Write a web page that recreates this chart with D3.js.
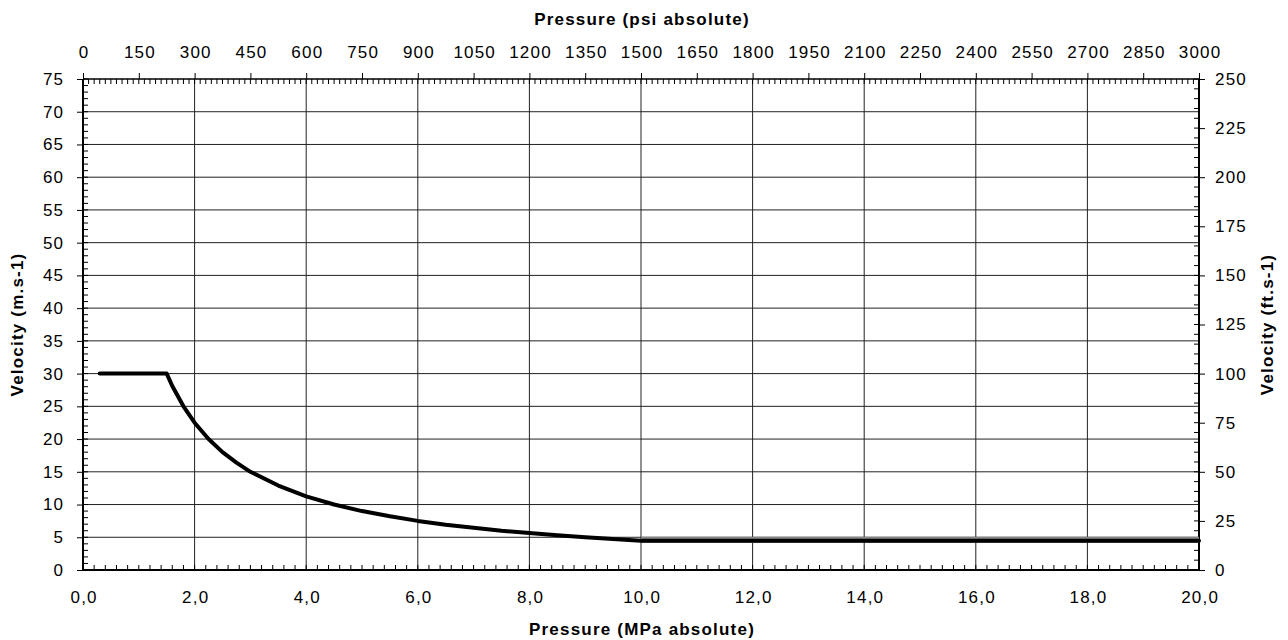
<!DOCTYPE html>
<html><head><meta charset="utf-8">
<script src="https://cdn.jsdelivr.net/npm/d3@7"></script>
<style>body{margin:0;background:#fff}svg{display:block}text{font-family:"Liberation Sans",Arial,sans-serif;fill:#000}</style>
</head><body><svg id="c" width="1288" height="640"></svg>
<script>
// Data
const pressureMPa = [0.3, 1.5, 1.6, 1.8, 2.0, 2.25, 2.5, 2.75, 3.0, 3.5, 4.0, 4.5, 5.0, 5.5, 6.0, 6.5, 7.0, 7.5, 8.0, 8.5, 9.0, 9.5, 10.0, 12.0, 14.0, 16.0, 18.0, 20.0];
const velocityMS  = [30, 30, 28.1, 25, 22.5, 20, 18, 16.4, 15, 12.9, 11.25, 10, 9, 8.2, 7.5, 6.9, 6.45, 6.0, 5.65, 5.3, 5.0, 4.75, 4.45, 4.45, 4.45, 4.45, 4.45, 4.45];
const flatP = [10.0, 20.0];
const flatV = [4.62, 4.62];
const bottomTicks = [0, 2, 4, 6, 8, 10, 12, 14, 16, 18, 20];
const topTicks = [0,150,300,450,600,750,900,1050,1200,1350,1500,1650,1800,1950,2100,2250,2400,2550,2700,2850,3000];
const leftTicks = [0,5,10,15,20,25,30,35,40,45,50,55,60,65,70,75];
const rightTicks = [0,25,50,75,100,125,150,175,200,225,250];

const svg = d3.select("#c");
const L = 83, R = 1199, T = 79, B = 570;
const x = d3.scaleLinear().domain([0,20]).range([L,R]);
const xt = d3.scaleLinear().domain([0,3000]).range([L,R]);
const y = d3.scaleLinear().domain([0,75]).range([B,T]);
const yr = d3.scaleLinear().domain([0,250]).range([B,T]);

// gridlines
const g = svg.append("g");
g.selectAll(".hg").data(leftTicks.filter(d=>d>0 && d<75)).join("line")
  .attr("x1",L).attr("x2",R).attr("y1",d=>y(d)).attr("y2",d=>y(d))
  .attr("stroke","#222").attr("stroke-width",1);
g.selectAll(".vg").data(bottomTicks.filter(d=>d>0 && d<20)).join("line")
  .attr("y1",T).attr("y2",B).attr("x1",d=>x(d)).attr("x2",d=>x(d))
  .attr("stroke","#222").attr("stroke-width",1);

// minor ticks
const minorLeft = d3.range(0,76,1);
svg.append("g").selectAll("line").data(minorLeft).join("line")
  .attr("x1",L).attr("x2",L+5).attr("y1",d=>y(d)).attr("y2",d=>y(d)).attr("stroke","#000");
const minorRight = d3.range(0,251,5);
svg.append("g").selectAll("line").data(minorRight).join("line")
  .attr("x1",R-5).attr("x2",R).attr("y1",d=>yr(d)).attr("y2",d=>yr(d)).attr("stroke","#000");
const minorBottom = d3.range(0,20.01,0.2);
svg.append("g").selectAll("line").data(minorBottom).join("line")
  .attr("x1",d=>x(d)).attr("x2",d=>x(d)).attr("y1",B).attr("y2",B-5).attr("stroke","#000");
const minorTop = d3.range(0,3001,15);
svg.append("g").selectAll("line").data(minorTop).join("line")
  .attr("x1",d=>xt(d)).attr("x2",d=>xt(d)).attr("y1",T).attr("y2",T+5).attr("stroke","#000");

// axes
const fmt = d3.format(".1f");
const ax = svg.append("g");
const bAxis = ax.append("g").attr("transform",`translate(0,${B})`)
  .call(d3.axisBottom(x).tickValues(bottomTicks).tickSize(0).tickPadding(21).tickFormat(d=>fmt(d).replace(".",",")));
const tAxis = ax.append("g").attr("transform",`translate(0,${T})`)
  .call(d3.axisTop(xt).tickValues(topTicks).tickSize(6).tickPadding(15).tickFormat(d3.format("d")));
const lAxis = ax.append("g").attr("transform",`translate(${L},0)`)
  .call(d3.axisLeft(y).tickValues(leftTicks).tickSize(6).tickPadding(14));
const rAxis = ax.append("g").attr("transform",`translate(${R},0)`)
  .call(d3.axisRight(yr).tickValues(rightTicks).tickSize(6).tickPadding(10));
ax.selectAll(".domain").attr("stroke","#000").attr("stroke-width",2);
ax.selectAll(".tick line").attr("stroke","#000");
ax.selectAll(".tick text").style("font-size","17px").style("letter-spacing","1.2px")
  .style("font-family","'Liberation Sans',Arial,sans-serif");
lAxis.selectAll(".tick text").attr("dx","1.2px");
bAxis.selectAll(".tick text").attr("dx","0.6px");
tAxis.selectAll(".tick text").attr("dx","0.6px");
// domain lines without end caps
bAxis.select(".domain").attr("d",`M${L},0H${R}`);
tAxis.select(".domain").attr("d",`M${L},0H${R}`).attr("stroke-width",1.5);
lAxis.select(".domain").attr("d",`M0,${T}V${B}`);
rAxis.select(".domain").attr("d",`M0,${T}V${B}`);

// series
const line = d3.line().x(d=>x(d[0])).y(d=>y(d[1]));
svg.append("path").datum(flatP.map((p,i)=>[p,flatV[i]]))
  .attr("d",line).attr("fill","none").attr("stroke","#888").attr("stroke-width",6);
svg.append("path").datum(pressureMPa.map((p,i)=>[p,velocityMS[i]]))
  .attr("d",line)
  .attr("fill","none").attr("stroke","#000").attr("stroke-width",4).attr("stroke-linejoin","round").attr("stroke-linecap","round");

// titles
function title(sel){ return sel.style("font-weight","bold").style("font-size","17px").style("letter-spacing","1.2px"); }
title(svg.append("text").attr("x",(L+R)/2+1).attr("y",25).attr("text-anchor","middle")).text("Pressure (psi absolute)");
title(svg.append("text").attr("x",(L+R)/2+1).attr("y",635).attr("text-anchor","middle")).text("Pressure (MPa absolute)");
title(svg.append("text").attr("transform",`translate(23,${(T+B)/2}) rotate(-90)`).attr("text-anchor","middle")).text("Velocity (m.s-1)");
title(svg.append("text").attr("transform",`translate(1273,${(T+B)/2}) rotate(-90)`).attr("text-anchor","middle")).text("Velocity (ft.s-1)");
</script></body></html>
